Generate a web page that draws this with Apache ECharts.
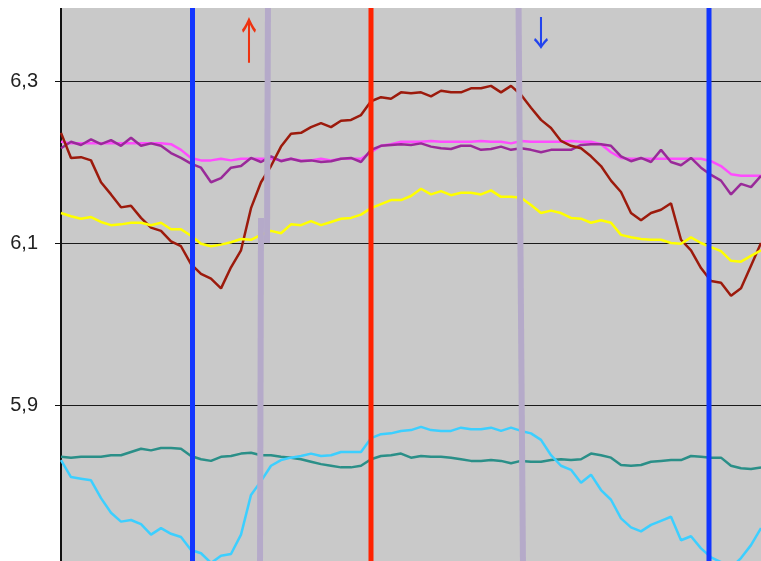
<!DOCTYPE html>
<html>
<head>
<meta charset="utf-8">
<script src="https://cdn.jsdelivr.net/npm/echarts@6/dist/echarts.min.js"></script>
<style>
  html, body { margin: 0; padding: 0; background: #fff; overflow: hidden; }
  #chart { width: 761px; height: 567px; }
</style>
</head>
<body>
<div id="chart"></div>
<script>
// x positions (sample index), 71 samples across the plot
const xs = Array.from({ length: 71 }, (_, i) => i);

const magenta = [
  6.225, 6.223, 6.223, 6.223, 6.223, 6.223, 6.223, 6.223, 6.223, 6.223,
  6.223, 6.222, 6.215, 6.205, 6.202, 6.202, 6.204, 6.202, 6.204, 6.204,
  6.204, 6.204, 6.202, 6.204, 6.202, 6.202, 6.204, 6.202, 6.204, 6.204,
  6.204, 6.212, 6.220, 6.222, 6.225, 6.225, 6.225, 6.226, 6.225, 6.225,
  6.225, 6.225, 6.226, 6.225, 6.225, 6.223, 6.226, 6.225, 6.225, 6.225,
  6.225, 6.226, 6.225, 6.225, 6.222, 6.212, 6.205, 6.204, 6.204, 6.204,
  6.204, 6.204, 6.204, 6.204, 6.204, 6.201, 6.195, 6.185, 6.183, 6.183,
  6.183
];
const purple = [
  6.217, 6.225, 6.221, 6.228, 6.222, 6.227, 6.220, 6.230, 6.220, 6.223,
  6.220, 6.211, 6.205, 6.198, 6.193, 6.175, 6.180, 6.193, 6.195, 6.205,
  6.200, 6.207, 6.201, 6.204, 6.201, 6.202, 6.200, 6.201, 6.204, 6.205,
  6.200, 6.215, 6.220, 6.221, 6.222, 6.221, 6.223, 6.219, 6.217, 6.216,
  6.220, 6.220, 6.215, 6.216, 6.219, 6.215, 6.217, 6.215, 6.212, 6.215,
  6.215, 6.215, 6.221, 6.222, 6.222, 6.220, 6.207, 6.201, 6.205, 6.200,
  6.215, 6.200, 6.196, 6.205, 6.193, 6.184, 6.177, 6.160, 6.173, 6.169,
  6.183
];
const darkRed = [
  6.236, 6.205, 6.206, 6.202, 6.175, 6.160, 6.144, 6.146, 6.131, 6.119,
  6.115, 6.102, 6.096, 6.074, 6.062, 6.056, 6.044, 6.070, 6.091, 6.143,
  6.175, 6.195, 6.219, 6.235, 6.236, 6.243, 6.248, 6.243, 6.251, 6.252,
  6.258, 6.275, 6.280, 6.278, 6.286, 6.285, 6.286, 6.281, 6.288, 6.286,
  6.286, 6.291, 6.291, 6.294, 6.286, 6.294, 6.283, 6.267, 6.252, 6.242,
  6.226, 6.220, 6.217, 6.207, 6.195, 6.177, 6.163, 6.137, 6.128, 6.137,
  6.141, 6.149, 6.104, 6.091, 6.069, 6.053, 6.051, 6.035, 6.044, 6.072,
  6.100
];
const yellow = [
  6.137, 6.133, 6.130, 6.132, 6.126, 6.122, 6.123, 6.125, 6.125, 6.122,
  6.125, 6.117, 6.117, 6.109, 6.099, 6.096, 6.098, 6.101, 6.105, 6.104,
  6.110, 6.115, 6.112, 6.123, 6.122, 6.127, 6.122, 6.126, 6.130, 6.131,
  6.135, 6.143, 6.148, 6.153, 6.153, 6.158, 6.167, 6.160, 6.164, 6.159,
  6.162, 6.162, 6.160, 6.165, 6.157, 6.157, 6.156, 6.147, 6.137, 6.140,
  6.137, 6.131, 6.130, 6.125, 6.128, 6.125, 6.110, 6.107, 6.105, 6.104,
  6.104, 6.100, 6.099, 6.107, 6.100, 6.095, 6.090, 6.078, 6.077, 6.084,
  6.091
];
const teal = [
  5.836, 5.835, 5.836, 5.836, 5.836, 5.838, 5.838, 5.842, 5.846, 5.844,
  5.847, 5.847, 5.846, 5.837, 5.833, 5.831, 5.836, 5.837, 5.840, 5.841,
  5.838, 5.838, 5.836, 5.835, 5.833, 5.830, 5.827, 5.825, 5.823, 5.823,
  5.825, 5.833, 5.837, 5.838, 5.840, 5.835, 5.837, 5.836, 5.836, 5.835,
  5.833, 5.831, 5.831, 5.832, 5.831, 5.828, 5.831, 5.830, 5.830, 5.832,
  5.833, 5.832, 5.833, 5.840, 5.838, 5.835, 5.826, 5.825, 5.826, 5.830,
  5.831, 5.832, 5.832, 5.837, 5.836, 5.835, 5.835, 5.825, 5.822, 5.821,
  5.823
];
const cyan = [
  5.832, 5.811, 5.809, 5.807, 5.785, 5.767, 5.756, 5.758, 5.753, 5.740,
  5.748, 5.741, 5.737, 5.721, 5.717, 5.705, 5.714, 5.716, 5.740, 5.789,
  5.806, 5.825, 5.832, 5.835, 5.837, 5.840, 5.837, 5.838, 5.842, 5.842,
  5.842, 5.859, 5.864, 5.865, 5.868, 5.869, 5.873, 5.869, 5.868, 5.868,
  5.872, 5.870, 5.870, 5.872, 5.868, 5.872, 5.868, 5.865, 5.857, 5.838,
  5.825, 5.820, 5.804, 5.814, 5.795, 5.783, 5.760, 5.749, 5.744, 5.752,
  5.757, 5.762, 5.733, 5.738, 5.723, 5.712, 5.706, 5.699, 5.711, 5.727,
  5.748
];

// labelled ticks on the value axis
const tickLabels = [5.9, 6.1, 6.3];

// vertical marker lines: [x top, y top, x bottom, y bottom]
const blueLines = [[13.15, 6.40, 13.15, 5.70], [64.8, 6.40, 64.8, 5.70]];
const redLines = [[31.0, 6.40, 31.0, 5.70]];
const lavenderLines = [
  [20.7, 6.40, 20.6, 6.10],
  [20.0, 6.131, 19.9, 5.70],
  [45.75, 6.40, 46.2, 5.70]
];

const chart = echarts.init(document.getElementById('chart'));

const pairs = (arr) => xs.map((x, i) => [x, arr[i]]);

const dataSeries = [
  { name: 'magenta', data: magenta, color: '#ff4cff' },
  { name: 'purple', data: purple, color: '#992a99' },
  { name: 'darkred', data: darkRed, color: '#9c1a0c' },
  { name: 'yellow', data: yellow, color: '#ffff00' },
  { name: 'teal', data: teal, color: '#2a8f88' },
  { name: 'cyan', data: cyan, color: '#3ccfff' }
].map(s => ({
  name: s.name,
  type: 'line',
  data: pairs(s.data),
  symbol: 'none',
  lineStyle: { color: s.color, width: 2.5 },
  z: 2
}));

const vLines = (lines, color, width) => lines.map(l => ({
  type: 'line',
  data: [[l[0], l[1]], [l[2], l[3]]],
  symbol: 'none',
  lineStyle: { color: color, width: width },
  z: 3
}));

const option = {
  animation: false,
  grid: {
    left: 61, right: 0, top: 0, bottom: 0,
    show: true,
    backgroundColor: '#c9c9c9',
    borderWidth: 0
  },
  xAxis: {
    type: 'value',
    min: 0,
    max: 70,
    show: false
  },
  yAxis: {
    type: 'value',
    min: 5.7,
    max: 6.4,
    interval: 0.2,
    axisLine: { show: true, lineStyle: { color: '#111', width: 2 } },
    axisTick: { show: true, length: 6, lineStyle: { color: '#111', width: 1 } },
    splitLine: { show: true, lineStyle: { color: '#1a1a1a', width: 1 } },
    axisLabel: {
      margin: 23,
      color: '#222',
      fontSize: 20,
      fontFamily: 'Liberation Sans, Arial, sans-serif',
      formatter: v => (tickLabels.some(t => Math.abs(t - v) < 1e-6) ? v.toFixed(1).replace('.', ',') : '')
    }
  },
  graphic: [
    {
      type: 'rect',
      shape: { x: 0, y: 0, width: 761, height: 8 },
      style: { fill: '#ffffff' },
      z: 100
    },
    {
      // 向上箭头，竖向拉长
      type: 'text',
      x: 234,
      y: 15,
      scaleY: 1.65,
      z: 50,
      style: {
        x: 0, y: 0,
        text: '↑',
        fill: '#ee3311',
        font: '30px "Noto Sans CJK SC", sans-serif',
        verticalAlign: 'top'
      }
    },
    {
      type: 'text',
      x: 526,
      y: 16,
      scaleY: 1.15,
      z: 50,
      style: {
        x: 0, y: 0,
        text: '↓',
        fill: '#2244ee',
        font: '30px "Noto Sans CJK SC", sans-serif',
        verticalAlign: 'top'
      }
    }
  ],
  series: [
    ...dataSeries,
    ...vLines(lavenderLines, '#b5aac9', 6),
    ...vLines(blueLines, '#1236ff', 5),
    ...vLines(redLines, '#ff2200', 5)
  ]
};

chart.setOption(option);
</script>
</body>
</html>
